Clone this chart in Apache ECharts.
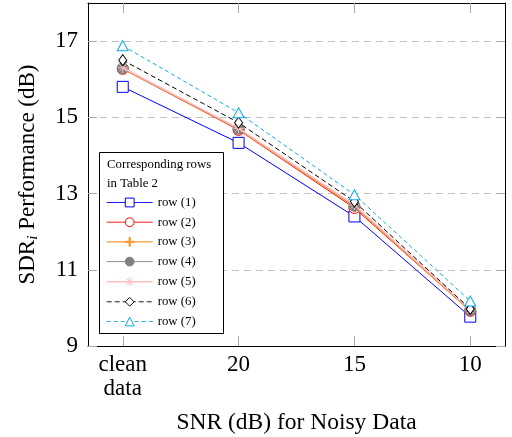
<!DOCTYPE html>
<html>
<head>
<meta charset="utf-8">
<script src="https://cdn.jsdelivr.net/npm/echarts@6/dist/echarts.min.js"></script>
<style>
html,body{margin:0;padding:0;background:#fff;}
#chart{width:512px;height:437px;}
</style>
</head>
<body>
<div id="chart"></div>
<script>
// ---- data ----
var categories = ['clean\ndata', '20', '15', '10'];
var seriesNames = ['row (1)', 'row (2)', 'row (3)', 'row (4)', 'row (5)', 'row (6)', 'row (7)'];
var row1 = [15.80, 14.33, 12.40, 9.77];
var row2 = [16.27, 14.67, 12.62, 9.92];
var row3 = [16.28, 14.69, 12.66, 9.93];
var row4 = [16.29, 14.70, 12.68, 9.94];
var row5 = [16.30, 14.71, 12.70, 9.95];
var row6 = [16.50, 14.86, 12.79, 9.97];
var row7 = [16.88, 15.12, 12.97, 10.18];
var yTicks = [9, 11, 13, 15, 17];
var legendTitle = ['Corresponding rows', 'in Table 2'];

var SERIF = "'Liberation Serif','Times New Roman',serif";
var allRows = [row1, row2, row3, row4, row5, row6, row7];

function pts(arr) { return arr.map(function (v, i) { return [i, v]; }); }

var styles = [
  { color: '#0000ff', symbol: 'rect', size: 11, fill: '#ffffff', width: 1, type: 'solid' },
  { color: '#ff0000', symbol: 'circle', size: 11, fill: '#ffffff', width: 1, type: 'solid' },
  { color: '#ff9933', symbol: 'path://M-0.7,-5L0.7,-5L0.7,-0.7L5,-0.7L5,0.7L0.7,0.7L0.7,5L-0.7,5L-0.7,0.7L-5,0.7L-5,-0.7L-0.7,-0.7Z', size: 11, fill: '#ff9933', width: 1.6, type: 'solid' },
  { color: '#808080', symbol: 'circle', size: 11, fill: '#808080', width: 1, type: 'solid' },
  { color: '#ffbfbf', symbol: 'path://M0,-5L0,5M-5,0L5,0M-3.5,-3.5L3.5,3.5M-3.5,3.5L3.5,-3.5', size: 10, fill: 'none', width: 1.6, type: 'solid' },
  { color: '#000000', symbol: 'diamond', size: [8, 11], fill: '#ffffff', width: 1, type: [5, 3] },
  { color: '#10aaee', symbol: 'triangle', size: [11, 10], fill: '#ffffff', width: 1, type: [4, 3] }
];

var series = allRows.map(function (r, k) {
  var s = styles[k];
  return {
    name: seriesNames[k],
    type: 'line',
    xAxisIndex: 0,
    yAxisIndex: 0,
    data: pts(r),
    symbol: s.symbol,
    symbolSize: s.size,
    showAllSymbol: true,
    lineStyle: { color: s.color, width: s.width, type: s.type },
    itemStyle: { color: s.fill, borderColor: s.color, borderWidth: 1 },
    emphasis: { disabled: true },
    animation: false,
    z: 2 + k
  };
});

var legendData = seriesNames.map(function (n, k) {
  var s = styles[k];
  return { name: n, lineStyle: { width: s.width > 1 ? 1.4 : 0.9 }, itemStyle: { borderWidth: 1 } };
});

var chart = echarts.init(document.getElementById('chart'), null, { renderer: 'canvas' });
chart.setOption({
  animation: false,
  backgroundColor: '#ffffff',
  grid: { left: 88, right: 7, top: 3, bottom: 91, containLabel: false, outerBoundsMode: 'none' },
  xAxis: [{
    type: 'value', min: -0.3, max: 3.3, position: 'bottom',
    name: 'SNR (dB) for Noisy Data', nameLocation: 'middle', nameGap: 65,
    nameTextStyle: { fontFamily: SERIF, fontSize: 23.5, color: '#000' },
    axisLine: { show: true, onZero: false, lineStyle: { color: '#000', width: 1 } },
    axisTick: { show: true, inside: true, length: 10, customValues: [0, 1, 2, 3], lineStyle: { color: '#aaaaaa', width: 1 } },
    axisLabel: { show: true, customValues: [0, 1, 2, 3], margin: 7, fontFamily: SERIF, fontSize: 23, lineHeight: 24, color: '#000',
      formatter: function (v) { return categories[Math.round(v)]; } },
    splitLine: { show: false }
  }, {
    type: 'value', min: -0.3, max: 3.3, position: 'top',
    axisLine: { show: true, onZero: false, lineStyle: { color: '#000', width: 1 } },
    axisTick: { show: true, inside: true, length: 10, customValues: [0, 1, 2, 3], lineStyle: { color: '#aaaaaa', width: 1 } },
    axisLabel: { show: false },
    splitLine: { show: false }
  }],
  yAxis: [{
    type: 'value', min: 9, max: 18, position: 'left',
    name: '{a|SDR}{s|i}{a| Performance (dB)}', nameLocation: 'middle', nameGap: 47,
    nameTextStyle: { fontFamily: SERIF, fontSize: 23, color: '#000',
      rich: {
        a: { fontFamily: SERIF, fontSize: 23, color: '#000' },
        s: { fontFamily: SERIF, fontSize: 15, fontStyle: 'italic', color: '#000', padding: [11, 0, 0, 0] }
      } },
    axisLine: { show: true, onZero: false, lineStyle: { color: '#000', width: 1 } },
    axisTick: { show: true, inside: true, length: 9, customValues: yTicks, lineStyle: { color: '#aaaaaa', width: 1 } },
    axisLabel: { show: true, customValues: yTicks, margin: 10, fontFamily: SERIF, fontSize: 23, color: '#000' },
    splitLine: { show: true, lineStyle: { color: '#c0c0c0', width: 1, type: [7, 5] } }
  }, {
    type: 'value', min: 9, max: 18, position: 'right',
    axisLine: { show: true, onZero: false, lineStyle: { color: '#000', width: 1 } },
    axisTick: { show: true, inside: true, length: 9, customValues: yTicks, lineStyle: { color: '#aaaaaa', width: 1 } },
    axisLabel: { show: false },
    splitLine: { show: false }
  }],
  legend: {
    show: true,
    orient: 'vertical',
    left: 106, top: 196,
    padding: 0,
    itemWidth: 46, itemHeight: 11, itemGap: 6.7,
    textStyle: { fontFamily: SERIF, fontSize: 12.8, lineHeight: 13, color: '#000' },
    data: legendData,
    selectedMode: false,
    z: 20
  },
  graphic: [
    { type: 'rect', shape: { x: 99.5, y: 152.5, width: 124, height: 181 }, style: { fill: '#fff', stroke: '#000', lineWidth: 1 }, z: 15 },
    { type: 'text', left: 107, top: 158, style: { text: legendTitle[0], font: '12.8px ' + SERIF, fill: '#000' }, z: 16 },
    { type: 'text', left: 107, top: 177, style: { text: legendTitle[1], font: '12.8px ' + SERIF, fill: '#000' }, z: 16 }
  ],
  series: series
});
</script>
</body>
</html>
